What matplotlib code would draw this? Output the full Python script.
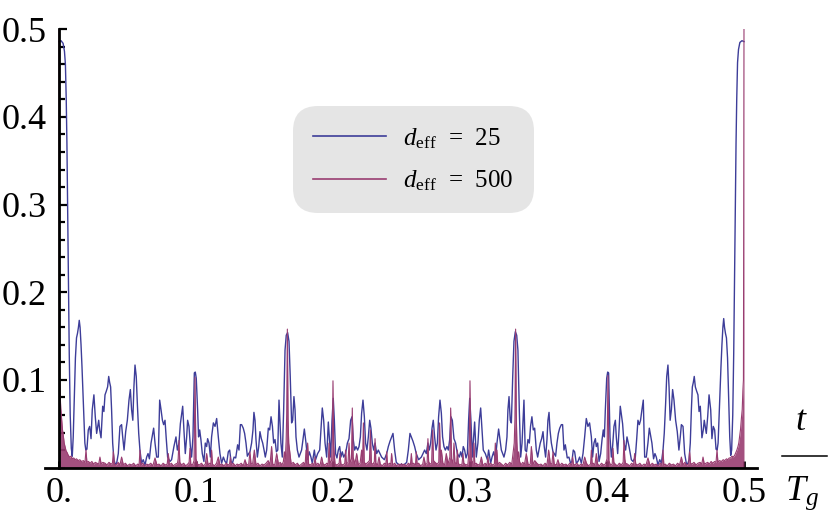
import numpy as np
import matplotlib
matplotlib.use("Agg")
import matplotlib.pyplot as plt
from matplotlib.lines import Line2D
from matplotlib.ticker import FixedLocator, MultipleLocator

# d_eff = 25, first half (t from 0 up to 0.25)
t25_a = [
    0.0000, 0.0015, 0.0030, 0.0040, 0.0047, 0.0053, 0.0058, 0.0063, 0.0069, 0.0075,
    0.0082, 0.0090, 0.0097, 0.0104, 0.0112, 0.0120, 0.0128, 0.0135, 0.0142, 0.0148,
    0.0154, 0.0161, 0.0168, 0.0175, 0.0182, 0.0189, 0.0196, 0.0204, 0.0214, 0.0224,
    0.0234, 0.0243, 0.0255, 0.0265, 0.0275, 0.0290, 0.0297, 0.0307, 0.0319, 0.0328,
    0.0336, 0.0345, 0.0355, 0.0363, 0.0370, 0.0377, 0.0384, 0.0392, 0.0401, 0.0411,
    0.0421, 0.0433, 0.0445, 0.0457, 0.0465, 0.0475, 0.0487, 0.0499, 0.0511, 0.0521,
    0.0530, 0.0539, 0.0547, 0.0555, 0.0564, 0.0572, 0.0582, 0.0591, 0.0603, 0.0615,
    0.0628, 0.0640, 0.0650, 0.0660, 0.0672, 0.0691, 0.0701, 0.0713, 0.0725, 0.0735,
    0.0745, 0.0755, 0.0764, 0.0774, 0.0783, 0.0793, 0.0810, 0.0822, 0.0839, 0.0854,
    0.0864, 0.0876, 0.0886, 0.0903, 0.0912, 0.0922, 0.0932, 0.0939, 0.0949, 0.0959,
    0.0968, 0.0978, 0.0988, 0.0995, 0.1002, 0.1012, 0.1019, 0.1027, 0.1036, 0.1046,
    0.1058, 0.1068, 0.1078, 0.1085, 0.1095, 0.1105, 0.1114, 0.1127, 0.1139, 0.1151,
    0.1163, 0.1175, 0.1187, 0.1200, 0.1212, 0.1224, 0.1236, 0.1246, 0.1256, 0.1266,
    0.1278, 0.1290, 0.1304, 0.1314, 0.1324, 0.1333, 0.1345, 0.1355, 0.1365, 0.1375,
    0.1385, 0.1394, 0.1406, 0.1416, 0.1423, 0.1431, 0.1438, 0.1448, 0.1458, 0.1467,
    0.1477, 0.1487, 0.1497, 0.1506, 0.1516, 0.1528, 0.1538, 0.1548, 0.1558, 0.1567,
    0.1577, 0.1587, 0.1597, 0.1606, 0.1620, 0.1630, 0.1640, 0.1650, 0.1659, 0.1669,
    0.1679, 0.1688, 0.1698, 0.1706, 0.1715, 0.1723, 0.1730, 0.1740, 0.1752, 0.1771,
    0.1781, 0.1791, 0.1803, 0.1815, 0.1827, 0.1839, 0.1849, 0.1864, 0.1873, 0.1888,
    0.1903, 0.1912, 0.1922, 0.1932, 0.1942, 0.1954, 0.1966, 0.1973, 0.1983, 0.1993,
    0.2002, 0.2010, 0.2019, 0.2029, 0.2039, 0.2049, 0.2058, 0.2068, 0.2078, 0.2092,
    0.2105, 0.2117, 0.2129, 0.2139, 0.2148, 0.2158, 0.2168, 0.2180, 0.2190, 0.2200,
    0.2209, 0.2219, 0.2229, 0.2238, 0.2248, 0.2258, 0.2268, 0.2277, 0.2287, 0.2297,
    0.2307, 0.2319, 0.2331, 0.2343, 0.2355, 0.2375, 0.2392, 0.2404, 0.2416, 0.2438,
    0.2450, 0.2462, 0.2475, 0.2490, 0.2500,
]
y25_a = [
    0.486, 0.487, 0.484, 0.475, 0.460, 0.420, 0.370, 0.300, 0.210, 0.130,
    0.060, 0.022, 0.013, 0.035, 0.080, 0.125, 0.148, 0.153, 0.160, 0.168,
    0.160, 0.140, 0.115, 0.085, 0.052, 0.028, 0.020, 0.021, 0.043, 0.047,
    0.033, 0.066, 0.083, 0.058, 0.039, 0.054, 0.043, 0.034, 0.070, 0.064,
    0.083, 0.087, 0.092, 0.104, 0.097, 0.092, 0.066, 0.028, 0.009, 0.004,
    0.005, 0.016, 0.047, 0.049, 0.035, 0.020, 0.041, 0.054, 0.077, 0.089,
    0.066, 0.054, 0.092, 0.117, 0.104, 0.073, 0.039, 0.020, 0.005, 0.009,
    0.003, 0.012, 0.016, 0.010, 0.028, 0.045, 0.028, 0.012, 0.012, 0.077,
    0.066, 0.054, 0.049, 0.054, 0.033, 0.012, 0.007, 0.009, 0.024, 0.035,
    0.020, 0.028, 0.050, 0.070, 0.043, 0.016, 0.035, 0.054, 0.047, 0.024,
    0.012, 0.035, 0.108, 0.109, 0.102, 0.066, 0.035, 0.043, 0.032, 0.016,
    0.007, 0.028, 0.024, 0.033, 0.028, 0.012, 0.035, 0.051, 0.047, 0.056,
    0.035, 0.016, 0.005, 0.012, 0.007, 0.005, 0.018, 0.020, 0.007, 0.005,
    0.012, 0.011, 0.026, 0.020, 0.049, 0.049, 0.045, 0.039, 0.028, 0.013,
    0.016, 0.018, 0.028, 0.043, 0.063, 0.054, 0.032, 0.012, 0.024, 0.041,
    0.033, 0.028, 0.020, 0.012, 0.020, 0.045, 0.043, 0.058, 0.047, 0.028,
    0.032, 0.018, 0.020, 0.077, 0.028, 0.012, 0.066, 0.134, 0.151, 0.154,
    0.144, 0.104, 0.051, 0.054, 0.081, 0.066, 0.035, 0.020, 0.012, 0.020,
    0.032, 0.044, 0.028, 0.009, 0.018, 0.012, 0.005, 0.020, 0.009, 0.016,
    0.020, 0.043, 0.068, 0.054, 0.028, 0.012, 0.052, 0.035, 0.012, 0.054,
    0.079, 0.054, 0.016, 0.011, 0.020, 0.024, 0.012, 0.018, 0.012, 0.016,
    0.028, 0.033, 0.054, 0.058, 0.032, 0.020, 0.024, 0.020, 0.024, 0.035,
    0.062, 0.077, 0.058, 0.028, 0.020, 0.035, 0.054, 0.045, 0.028, 0.020,
    0.028, 0.016, 0.020, 0.016, 0.012, 0.009, 0.016, 0.024, 0.030, 0.039,
    0.020, 0.006, 0.004, 0.003, 0.004,
]

# d_eff = 25, second half (t from 0.5 back down to 0.25)
t25_b = [
    0.5000, 0.4985, 0.4970, 0.4960, 0.4953, 0.4947, 0.4942, 0.4937, 0.4931, 0.4925,
    0.4918, 0.4910, 0.4903, 0.4896, 0.4888, 0.4880, 0.4872, 0.4865, 0.4858, 0.4852,
    0.4846, 0.4839, 0.4832, 0.4825, 0.4818, 0.4811, 0.4804, 0.4796, 0.4786, 0.4776,
    0.4766, 0.4757, 0.4745, 0.4735, 0.4725, 0.4710, 0.4703, 0.4693, 0.4681, 0.4672,
    0.4664, 0.4655, 0.4645, 0.4637, 0.4630, 0.4623, 0.4616, 0.4608, 0.4599, 0.4589,
    0.4579, 0.4567, 0.4555, 0.4543, 0.4535, 0.4525, 0.4513, 0.4501, 0.4489, 0.4479,
    0.4470, 0.4461, 0.4453, 0.4445, 0.4436, 0.4428, 0.4418, 0.4409, 0.4397, 0.4385,
    0.4372, 0.4360, 0.4350, 0.4340, 0.4328, 0.4309, 0.4299, 0.4287, 0.4275, 0.4265,
    0.4255, 0.4245, 0.4236, 0.4226, 0.4217, 0.4207, 0.4190, 0.4178, 0.4161, 0.4146,
    0.4136, 0.4124, 0.4114, 0.4097, 0.4088, 0.4078, 0.4068, 0.4061, 0.4051, 0.4041,
    0.4032, 0.4022, 0.4012, 0.4005, 0.3998, 0.3988, 0.3981, 0.3973, 0.3964, 0.3954,
    0.3942, 0.3932, 0.3922, 0.3915, 0.3905, 0.3895, 0.3886, 0.3873, 0.3861, 0.3849,
    0.3837, 0.3825, 0.3813, 0.3800, 0.3788, 0.3776, 0.3764, 0.3754, 0.3744, 0.3734,
    0.3722, 0.3710, 0.3696, 0.3686, 0.3676, 0.3667, 0.3655, 0.3645, 0.3635, 0.3625,
    0.3615, 0.3606, 0.3594, 0.3584, 0.3577, 0.3569, 0.3562, 0.3552, 0.3542, 0.3533,
    0.3523, 0.3513, 0.3503, 0.3494, 0.3484, 0.3472, 0.3462, 0.3452, 0.3442, 0.3433,
    0.3423, 0.3413, 0.3403, 0.3394, 0.3380, 0.3370, 0.3360, 0.3350, 0.3341, 0.3331,
    0.3321, 0.3312, 0.3302, 0.3294, 0.3285, 0.3277, 0.3270, 0.3260, 0.3248, 0.3229,
    0.3219, 0.3209, 0.3197, 0.3185, 0.3173, 0.3161, 0.3151, 0.3136, 0.3127, 0.3112,
    0.3097, 0.3088, 0.3078, 0.3068, 0.3058, 0.3046, 0.3034, 0.3027, 0.3017, 0.3007,
    0.2998, 0.2990, 0.2981, 0.2971, 0.2961, 0.2951, 0.2942, 0.2932, 0.2922, 0.2908,
    0.2895, 0.2883, 0.2871, 0.2861, 0.2852, 0.2842, 0.2832, 0.2820, 0.2810, 0.2800,
    0.2791, 0.2781, 0.2771, 0.2762, 0.2752, 0.2742, 0.2732, 0.2723, 0.2713, 0.2703,
    0.2693, 0.2681, 0.2669, 0.2657, 0.2645, 0.2625, 0.2608, 0.2596, 0.2584, 0.2562,
    0.2550, 0.2538, 0.2525, 0.2510, 0.2500,
]
y25_b = [
    0.486, 0.487, 0.485, 0.477, 0.462, 0.420, 0.370, 0.300, 0.210, 0.130,
    0.060, 0.020, 0.014, 0.035, 0.080, 0.125, 0.148, 0.153, 0.160, 0.170,
    0.160, 0.140, 0.115, 0.085, 0.052, 0.028, 0.020, 0.021, 0.043, 0.047,
    0.033, 0.066, 0.083, 0.058, 0.039, 0.054, 0.043, 0.034, 0.070, 0.064,
    0.083, 0.087, 0.092, 0.104, 0.097, 0.092, 0.066, 0.028, 0.009, 0.004,
    0.005, 0.016, 0.047, 0.049, 0.035, 0.020, 0.041, 0.054, 0.077, 0.089,
    0.066, 0.054, 0.092, 0.117, 0.104, 0.073, 0.039, 0.020, 0.005, 0.009,
    0.003, 0.012, 0.016, 0.010, 0.028, 0.045, 0.028, 0.012, 0.012, 0.077,
    0.066, 0.054, 0.049, 0.054, 0.033, 0.012, 0.007, 0.009, 0.024, 0.035,
    0.020, 0.028, 0.050, 0.070, 0.043, 0.016, 0.035, 0.054, 0.047, 0.024,
    0.012, 0.035, 0.108, 0.109, 0.102, 0.066, 0.035, 0.043, 0.032, 0.016,
    0.007, 0.028, 0.024, 0.033, 0.028, 0.012, 0.035, 0.051, 0.047, 0.056,
    0.035, 0.016, 0.005, 0.012, 0.007, 0.005, 0.018, 0.020, 0.007, 0.005,
    0.012, 0.011, 0.026, 0.020, 0.049, 0.049, 0.045, 0.039, 0.028, 0.013,
    0.016, 0.018, 0.028, 0.043, 0.063, 0.054, 0.032, 0.012, 0.024, 0.041,
    0.033, 0.028, 0.020, 0.012, 0.020, 0.045, 0.043, 0.058, 0.047, 0.028,
    0.032, 0.018, 0.020, 0.077, 0.028, 0.012, 0.066, 0.134, 0.151, 0.155,
    0.144, 0.104, 0.051, 0.054, 0.081, 0.066, 0.035, 0.020, 0.012, 0.020,
    0.032, 0.044, 0.028, 0.009, 0.018, 0.012, 0.005, 0.020, 0.009, 0.016,
    0.020, 0.043, 0.068, 0.054, 0.028, 0.012, 0.052, 0.035, 0.012, 0.054,
    0.079, 0.054, 0.016, 0.011, 0.020, 0.024, 0.012, 0.018, 0.012, 0.016,
    0.028, 0.033, 0.054, 0.058, 0.032, 0.020, 0.024, 0.020, 0.024, 0.035,
    0.062, 0.077, 0.058, 0.028, 0.020, 0.035, 0.054, 0.045, 0.028, 0.020,
    0.028, 0.016, 0.020, 0.016, 0.012, 0.009, 0.016, 0.024, 0.030, 0.039,
    0.020, 0.006, 0.004, 0.003, 0.004,
]

# d_eff = 500, first half
t500_a = [
    0.0000, 0.0004, 0.0008, 0.0013, 0.0019, 0.0025, 0.0032, 0.0038, 0.0044, 0.0052,
    0.0060, 0.0068, 0.0078, 0.0088, 0.0098, 0.0108, 0.0117, 0.0128, 0.0140, 0.0152,
    0.0165, 0.0178, 0.0190, 0.0197, 0.0204, 0.0215, 0.0228, 0.0240, 0.0253, 0.0265,
    0.0278, 0.0290, 0.0299, 0.0308, 0.0320, 0.0336, 0.0350, 0.0365, 0.0380, 0.0390,
    0.0397, 0.0404, 0.0418, 0.0432, 0.0445, 0.0457, 0.0470, 0.0485, 0.0500, 0.0515,
    0.0530, 0.0545, 0.0560, 0.0575, 0.0585, 0.0591, 0.0598, 0.0612, 0.0626, 0.0640,
    0.0655, 0.0670, 0.0685, 0.0701, 0.0715, 0.0730, 0.0745, 0.0760, 0.0775, 0.0790,
    0.0798, 0.0806, 0.0820, 0.0835, 0.0850, 0.0865, 0.0870, 0.0876, 0.0882, 0.0895,
    0.0910, 0.0925, 0.0940, 0.0950, 0.0956, 0.0962, 0.0975, 0.0986, 0.0993, 0.1000,
    0.1012, 0.1025, 0.1040, 0.1055, 0.1068, 0.1078, 0.1088, 0.1100, 0.1108, 0.1114,
    0.1120, 0.1135, 0.1150, 0.1163, 0.1175, 0.1190, 0.1205, 0.1220, 0.1235, 0.1245,
    0.1251, 0.1258, 0.1272, 0.1287, 0.1300, 0.1315, 0.1330, 0.1345, 0.1358, 0.1370,
    0.1385, 0.1394, 0.1402, 0.1414, 0.1426, 0.1438, 0.1452, 0.1467, 0.1482, 0.1497,
    0.1512, 0.1527, 0.1540, 0.1552, 0.1560, 0.1575, 0.1589, 0.1602, 0.1615, 0.1628,
    0.1638, 0.1645, 0.1652, 0.1658, 0.1662, 0.1667, 0.1672, 0.1677, 0.1686, 0.1695,
    0.1710, 0.1725, 0.1740, 0.1755, 0.1770, 0.1785, 0.1797, 0.1803, 0.1809, 0.1815,
    0.1822, 0.1835, 0.1850, 0.1862, 0.1869, 0.1876, 0.1890, 0.1905, 0.1917, 0.1928,
    0.1942, 0.1955, 0.1965, 0.1971, 0.1978, 0.1990, 0.1995, 0.2000, 0.2005, 0.2015,
    0.2030, 0.2045, 0.2051, 0.2058, 0.2075, 0.2086, 0.2092, 0.2098, 0.2110, 0.2117,
    0.2124, 0.2135, 0.2141, 0.2147, 0.2160, 0.2173, 0.2185, 0.2198, 0.2209, 0.2216,
    0.2222, 0.2228, 0.2240, 0.2255, 0.2266, 0.2273, 0.2280, 0.2293, 0.2302, 0.2307,
    0.2313, 0.2325, 0.2336, 0.2345, 0.2360, 0.2375, 0.2386, 0.2392, 0.2398, 0.2412,
    0.2422, 0.2428, 0.2435, 0.2450, 0.2465, 0.2480, 0.2490, 0.2500,
]
y500_a = [
    0.500, 0.100, 0.085, 0.068, 0.056, 0.044, 0.036, 0.028, 0.024, 0.019,
    0.017, 0.014, 0.012, 0.013, 0.010, 0.011, 0.009, 0.010, 0.008, 0.009,
    0.007, 0.008, 0.006, 0.020, 0.006, 0.007, 0.005, 0.007, 0.004, 0.006,
    0.005, 0.004, 0.012, 0.004, 0.006, 0.005, 0.003, 0.006, 0.004, 0.005,
    0.018, 0.004, 0.003, 0.006, 0.003, 0.012, 0.003, 0.005, 0.002, 0.004,
    0.003, 0.005, 0.002, 0.004, 0.003, 0.020, 0.003, 0.005, 0.002, 0.004,
    0.003, 0.005, 0.002, 0.011, 0.003, 0.004, 0.002, 0.005, 0.003, 0.004,
    0.016, 0.003, 0.005, 0.002, 0.004, 0.005, 0.010, 0.031, 0.006, 0.003,
    0.005, 0.002, 0.004, 0.006, 0.022, 0.004, 0.003, 0.008, 0.103, 0.010,
    0.004, 0.003, 0.005, 0.002, 0.004, 0.016, 0.003, 0.005, 0.004, 0.020,
    0.004, 0.002, 0.005, 0.012, 0.003, 0.004, 0.002, 0.005, 0.003, 0.004,
    0.012, 0.003, 0.005, 0.002, 0.004, 0.003, 0.005, 0.002, 0.009, 0.003,
    0.004, 0.018, 0.004, 0.005, 0.020, 0.003, 0.005, 0.002, 0.004, 0.003,
    0.005, 0.008, 0.003, 0.024, 0.004, 0.003, 0.016, 0.004, 0.006, 0.003,
    0.007, 0.018, 0.010, 0.030, 0.060, 0.158, 0.055, 0.028, 0.016, 0.004,
    0.006, 0.003, 0.005, 0.002, 0.004, 0.006, 0.003, 0.020, 0.005, 0.028,
    0.004, 0.003, 0.005, 0.003, 0.012, 0.003, 0.005, 0.002, 0.012, 0.004,
    0.003, 0.005, 0.004, 0.028, 0.005, 0.008, 0.030, 0.099, 0.025, 0.004,
    0.003, 0.005, 0.016, 0.004, 0.003, 0.005, 0.020, 0.004, 0.006, 0.028,
    0.005, 0.010, 0.068, 0.012, 0.004, 0.016, 0.003, 0.005, 0.020, 0.006,
    0.051, 0.006, 0.004, 0.006, 0.008, 0.043, 0.005, 0.004, 0.007, 0.033,
    0.005, 0.003, 0.012, 0.004, 0.002, 0.005, 0.004, 0.018, 0.003, 0.005,
    0.004, 0.016, 0.003, 0.005, 0.002, 0.004, 0.003, 0.004,
]

# d_eff = 500, second half (t from 0.5 back down to 0.25)
t500_b = [
    0.5000, 0.4996, 0.4992, 0.4987, 0.4981, 0.4975, 0.4968, 0.4962, 0.4956, 0.4948,
    0.4940, 0.4932, 0.4922, 0.4912, 0.4902, 0.4892, 0.4883, 0.4872, 0.4860, 0.4848,
    0.4835, 0.4822, 0.4810, 0.4803, 0.4796, 0.4785, 0.4772, 0.4760, 0.4747, 0.4735,
    0.4722, 0.4710, 0.4701, 0.4692, 0.4680, 0.4664, 0.4650, 0.4635, 0.4620, 0.4610,
    0.4603, 0.4596, 0.4582, 0.4568, 0.4555, 0.4543, 0.4530, 0.4515, 0.4500, 0.4485,
    0.4470, 0.4455, 0.4440, 0.4425, 0.4415, 0.4409, 0.4402, 0.4388, 0.4374, 0.4360,
    0.4345, 0.4330, 0.4315, 0.4299, 0.4285, 0.4270, 0.4255, 0.4240, 0.4225, 0.4210,
    0.4202, 0.4194, 0.4180, 0.4165, 0.4150, 0.4135, 0.4130, 0.4124, 0.4118, 0.4105,
    0.4090, 0.4075, 0.4060, 0.4050, 0.4044, 0.4038, 0.4025, 0.4014, 0.4007, 0.4000,
    0.3988, 0.3975, 0.3960, 0.3945, 0.3932, 0.3922, 0.3912, 0.3900, 0.3892, 0.3886,
    0.3880, 0.3865, 0.3850, 0.3837, 0.3825, 0.3810, 0.3795, 0.3780, 0.3765, 0.3755,
    0.3749, 0.3742, 0.3728, 0.3713, 0.3700, 0.3685, 0.3670, 0.3655, 0.3642, 0.3630,
    0.3615, 0.3606, 0.3598, 0.3586, 0.3574, 0.3562, 0.3548, 0.3533, 0.3518, 0.3503,
    0.3488, 0.3473, 0.3460, 0.3448, 0.3440, 0.3425, 0.3411, 0.3398, 0.3385, 0.3372,
    0.3362, 0.3355, 0.3348, 0.3342, 0.3338, 0.3333, 0.3328, 0.3323, 0.3314, 0.3305,
    0.3290, 0.3275, 0.3260, 0.3245, 0.3230, 0.3215, 0.3203, 0.3197, 0.3191, 0.3185,
    0.3178, 0.3165, 0.3150, 0.3138, 0.3131, 0.3124, 0.3110, 0.3095, 0.3083, 0.3072,
    0.3058, 0.3045, 0.3035, 0.3029, 0.3022, 0.3010, 0.3005, 0.3000, 0.2995, 0.2985,
    0.2970, 0.2955, 0.2949, 0.2942, 0.2925, 0.2914, 0.2908, 0.2902, 0.2890, 0.2883,
    0.2876, 0.2865, 0.2859, 0.2853, 0.2840, 0.2827, 0.2815, 0.2802, 0.2791, 0.2784,
    0.2778, 0.2772, 0.2760, 0.2745, 0.2734, 0.2727, 0.2720, 0.2707, 0.2698, 0.2693,
    0.2687, 0.2675, 0.2664, 0.2655, 0.2640, 0.2625, 0.2614, 0.2608, 0.2602, 0.2588,
    0.2578, 0.2572, 0.2565, 0.2550, 0.2535, 0.2520, 0.2510, 0.2500,
]
y500_b = [
    0.500, 0.100, 0.088, 0.066, 0.056, 0.044, 0.035, 0.028, 0.024, 0.020,
    0.017, 0.014, 0.012, 0.013, 0.011, 0.011, 0.009, 0.010, 0.008, 0.009,
    0.007, 0.008, 0.006, 0.020, 0.006, 0.007, 0.005, 0.007, 0.004, 0.006,
    0.005, 0.004, 0.012, 0.004, 0.006, 0.005, 0.003, 0.006, 0.004, 0.005,
    0.018, 0.004, 0.003, 0.006, 0.003, 0.012, 0.003, 0.005, 0.002, 0.004,
    0.003, 0.005, 0.002, 0.004, 0.003, 0.020, 0.003, 0.005, 0.002, 0.004,
    0.003, 0.005, 0.002, 0.011, 0.003, 0.004, 0.002, 0.005, 0.003, 0.004,
    0.016, 0.003, 0.005, 0.002, 0.004, 0.005, 0.010, 0.031, 0.006, 0.003,
    0.005, 0.002, 0.004, 0.006, 0.022, 0.004, 0.003, 0.008, 0.105, 0.010,
    0.004, 0.003, 0.005, 0.002, 0.004, 0.016, 0.003, 0.005, 0.004, 0.020,
    0.004, 0.002, 0.005, 0.012, 0.003, 0.004, 0.002, 0.005, 0.003, 0.004,
    0.012, 0.003, 0.005, 0.002, 0.004, 0.003, 0.005, 0.002, 0.009, 0.003,
    0.004, 0.018, 0.004, 0.005, 0.020, 0.003, 0.005, 0.002, 0.004, 0.003,
    0.005, 0.008, 0.003, 0.024, 0.004, 0.003, 0.016, 0.004, 0.006, 0.003,
    0.007, 0.018, 0.010, 0.030, 0.060, 0.158, 0.055, 0.028, 0.016, 0.004,
    0.006, 0.003, 0.005, 0.002, 0.004, 0.006, 0.003, 0.020, 0.005, 0.028,
    0.004, 0.003, 0.005, 0.003, 0.012, 0.003, 0.005, 0.002, 0.012, 0.004,
    0.003, 0.005, 0.004, 0.028, 0.005, 0.008, 0.030, 0.099, 0.025, 0.004,
    0.003, 0.005, 0.016, 0.004, 0.003, 0.005, 0.020, 0.004, 0.006, 0.028,
    0.005, 0.010, 0.068, 0.012, 0.004, 0.016, 0.003, 0.005, 0.020, 0.006,
    0.051, 0.006, 0.004, 0.006, 0.008, 0.043, 0.005, 0.004, 0.007, 0.033,
    0.005, 0.003, 0.012, 0.004, 0.002, 0.005, 0.004, 0.018, 0.003, 0.005,
    0.004, 0.016, 0.003, 0.005, 0.002, 0.004, 0.003, 0.004,
]

x_ticks = [0.0, 0.1, 0.2, 0.3, 0.4, 0.5]
x_tick_labels = ["0.", "0.1", "0.2", "0.3", "0.4", "0.5"]
y_ticks = [0.1, 0.2, 0.3, 0.4, 0.5]
y_tick_labels = ["0.1", "0.2", "0.3", "0.4", "0.5"]
legend_labels = [r"$d_{\mathrm{eff}}$  =  25", r"$d_{\mathrm{eff}}$  =  500"]

blue = "#3d3d99"
purple = "#993d71"

plt.rcParams["font.family"] = ["Liberation Serif", "DejaVu Serif"]
plt.rcParams["mathtext.fontset"] = "custom"
plt.rcParams["mathtext.rm"] = "Liberation Serif"
plt.rcParams["mathtext.it"] = "Liberation Serif:italic"

W, H = 830, 527
fig = plt.figure(figsize=(W / 100, H / 100), dpi=100)
ax = fig.add_axes([45 / W, 1 - 467.6 / H, 712 / W, (467.6 - 29.3) / H])
ax.set_xlim(-0.0102, 0.5095)
ax.set_ylim(0, 0.5)

ax.plot(t25_a, y25_a, color=blue, lw=1.0, zorder=2, label=legend_labels[0])
ax.plot(t25_b, y25_b, color=blue, lw=1.0, zorder=2)

ax.fill_between(t500_a, 0, y500_a, color=purple, alpha=0.9, lw=0, zorder=3)
ax.fill_between(t500_b, 0, y500_b, color=purple, alpha=0.9, lw=0, zorder=3)
ax.plot(t500_a, y500_a, color=purple, lw=0.8, zorder=3, label=legend_labels[1])
ax.plot(t500_b, y500_b, color=purple, lw=0.8, zorder=3)

# Mathematica style axes crossing at the origin
for side in ["top", "right"]:
    ax.spines[side].set_visible(False)
ax.spines["left"].set_position(("data", 0))
for side in ["left", "bottom"]:
    ax.spines[side].set_linewidth(2.0)
    ax.spines[side].set_zorder(5)

ax.xaxis.set_major_locator(FixedLocator(x_ticks))
ax.set_xticklabels(x_tick_labels)
ax.yaxis.set_major_locator(FixedLocator(y_ticks))
ax.set_yticklabels(y_tick_labels)
ax.yaxis.set_minor_locator(MultipleLocator(0.02))

ax.tick_params(axis="x", which="major", direction="in", length=5, width=2.0,
               labelsize=26, pad=7)
ax.tick_params(axis="y", which="major", direction="in", length=6, width=1.6,
               labelsize=26, pad=9)
ax.tick_params(axis="y", which="minor", direction="in", length=4, width=1.6)

leg = ax.legend(loc="center", bbox_to_anchor=(413.5 / W, 1 - 159.5 / H),
                bbox_transform=fig.transFigure, fontsize=18, frameon=True,
                facecolor="#e5e5e5", edgecolor="none", framealpha=1,
                handlelength=2.9, handletextpad=0.7, labelspacing=0.7,
                borderpad=0.8)
leg.get_frame().set_boxstyle("round", pad=0, rounding_size=1.0)
for line in leg.get_lines():
    line.set_linewidth(1.2)

# axis label t / T_g drawn as a fraction
fig.text(801.5 / W, 1 - 430 / H, r"$t$", ha="center", va="baseline", fontsize=26)
fig.text(801.5 / W, 1 - 500 / H, r"$T_g$", ha="center", va="baseline", fontsize=26)
fig.add_artist(Line2D([782 / W, 827 / W], [1 - 456 / H, 1 - 456 / H],
                      color="black", lw=1.1, transform=fig.transFigure))

fig.savefig("out.png", dpi=100, facecolor="white")
